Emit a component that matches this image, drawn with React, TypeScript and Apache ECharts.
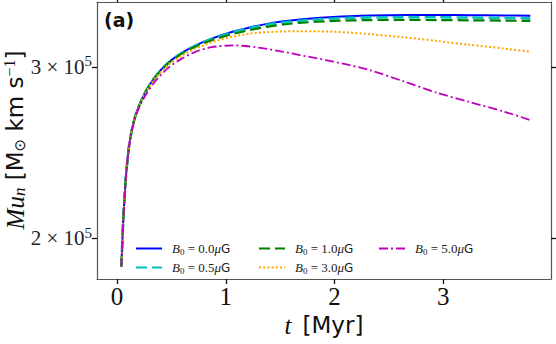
import React, { useEffect, useRef } from "react";
import * as echarts from "echarts";

// time axis [Myr]
const timeMyr = [0.04, 0.055, 0.07, 0.085, 0.11, 0.14, 0.18, 0.26, 0.35, 0.47, 0.6, 0.72, 0.87, 1.07, 1.22, 1.38, 1.53, 1.68, 1.84, 1.99, 2.14, 2.33, 2.63, 2.94, 3.24, 3.55, 3.8];

// momentum M u_n [Msun km/s] per field strength
const momB00 = [187000, 206000, 221000, 233500, 248500, 259500, 269500, 282500, 292800, 302800, 310200, 315400, 320600, 326000, 329200, 332000, 334000, 335500, 336700, 337500, 338100, 338600, 339000, 339000, 338900, 338700, 338400];
const momB05 = [187000, 206000, 221000, 233500, 248500, 259500, 269500, 282500, 292800, 302800, 310100, 315300, 320400, 325600, 328700, 331300, 333200, 334500, 335500, 336200, 336700, 337100, 337300, 337200, 337000, 336700, 336300];
const momB10 = [187000, 206000, 221000, 233500, 248500, 259500, 269500, 282400, 292600, 302400, 309600, 314600, 319400, 324300, 327200, 329700, 331500, 332800, 333700, 334300, 334700, 335000, 335100, 335000, 334800, 334600, 334300];
const momB30 = [187000, 206000, 221000, 233500, 248500, 259400, 269300, 282000, 291800, 301300, 308200, 313100, 317800, 322300, 324400, 325600, 326100, 326300, 326200, 325900, 325200, 324000, 321700, 318900, 316000, 313300, 310800];
const momB50 = [187000, 206000, 221000, 233500, 248300, 259000, 268500, 280200, 289800, 299200, 306000, 310800, 314200, 315600, 314700, 312900, 310800, 308400, 306000, 303600, 301100, 297500, 290000, 282200, 276000, 270000, 264500];

const fieldLabels = ["0.0", "0.5", "1.0", "3.0", "5.0"];
const seriesValues = [momB00, momB05, momB10, momB30, momB50];

const xTicks = [0, 1, 2, 3];
const yTickValues = [200000, 300000];
const yTickMantissa = ["2", "3"];
const yTickExponent = ["5", "5"];

const colors = ["#0000ff", "#00bfbf", "#008000", "#ffa500", "#bf00bf"];
const widths = [2, 2.6, 2.2, 2, 1.8];
const dashes: any[] = ["solid", [11, 5], [11, 5], [2, 2.2], [9, 3, 2, 3]];

const X_MIN = -0.184;
const X_MAX = 3.99;
const Y_MIN = 181700;
const Y_MAX = 349600;

const SERIF = '"Liberation Serif", "DejaVu Serif", serif';
const SANS = '"DejaVu Sans", sans-serif';

export default function App() {
  const ref = useRef<HTMLDivElement>(null);
  useEffect(() => {
    if (!ref.current) return;
    const chart = echarts.init(ref.current, null, { renderer: "svg" });
    const names = fieldLabels.map((l) => "B0 = " + l);
    const yTickLogs = yTickValues.map((v) => Math.log10(v));

    const legendCommon = {
      orient: "vertical",
      itemWidth: 26,
      itemHeight: 12,
      itemGap: 5,
      selectedMode: false,
      top: 242,
      padding: 0,
      itemStyle: { opacity: 0 },
      formatter: (name: string) => {
        const lab = name.replace("B0 = ", "");
        return `{i|B}{s|0}{r| = ${lab}}{m|μ}{g|G}`;
      },
      textStyle: {
        color: "#222",
        padding: [0, 0, 0, 5],
        rich: {
          i: { fontFamily: SERIF, fontStyle: "italic", fontSize: 13, color: "#222" },
          s: { fontFamily: SERIF, fontSize: 9, padding: [6, 0, 0, 0], color: "#222" },
          r: { fontFamily: SERIF, fontSize: 13, color: "#222" },
          m: { fontFamily: SERIF, fontStyle: "italic", fontSize: 13, color: "#222" },
          g: { fontFamily: SANS, fontSize: 12, color: "#222" },
        },
      },
    };

    const axisLineStyle = { color: "#555", width: 1.2 };
    const tickStyle = { color: "#111", width: 1.3 };

    const option: any = {
      animation: false,
      backgroundColor: "#fff",
      grid: { left: 97, right: 5, top: 2, bottom: 65 },
      legend: [
        { ...legendCommon, left: 135, data: [names[0], names[1]] },
        { ...legendCommon, left: 258, data: [names[2], names[3]] },
        { ...legendCommon, left: 378, data: [names[4]] },
      ],
      xAxis: [
        {
          type: "value",
          min: X_MIN,
          max: X_MAX,
          position: "bottom",
          splitLine: { show: false },
          axisLine: { show: true, onZero: false, lineStyle: axisLineStyle },
          axisTick: { show: true, inside: false, length: 5, lineStyle: tickStyle, customValues: xTicks },
          axisLabel: {
            show: true,
            margin: 5,
            customValues: xTicks,
            fontFamily: SERIF,
            fontSize: 25,
            color: "#111",
            formatter: (v: number) => String(Math.round(v)),
          },
        },
        {
          type: "value",
          min: X_MIN,
          max: X_MAX,
          position: "top",
          splitLine: { show: false },
          axisLine: { show: true, onZero: false, lineStyle: axisLineStyle },
          axisTick: { show: true, inside: false, length: 5, lineStyle: tickStyle, customValues: xTicks },
          axisLabel: { show: false },
        },
      ],
      yAxis: [
        {
          type: "value",
          min: Math.log10(Y_MIN),
          max: Math.log10(Y_MAX),
          position: "left",
          splitLine: { show: false },
          axisLine: { show: true, onZero: false, lineStyle: axisLineStyle },
          axisTick: { show: true, inside: false, length: 5, lineStyle: tickStyle, customValues: yTickLogs },
          axisLabel: {
            show: true,
            margin: 5,
            customValues: yTickLogs,
            formatter: (v: number) => {
              let idx = 0;
              let best = Infinity;
              yTickLogs.forEach((t, i) => {
                const d = Math.abs(t - v);
                if (d < best) { best = d; idx = i; }
              });
              return `{m|${yTickMantissa[idx]} × 10}{e|${yTickExponent[idx]}}`;
            },
            rich: {
              m: { fontFamily: SERIF, fontSize: 21, color: "#222" },
              e: { fontFamily: SERIF, fontSize: 15, color: "#222", padding: [0, 0, 11, 0] },
            },
          },
        },
        {
          type: "value",
          min: Math.log10(Y_MIN),
          max: Math.log10(Y_MAX),
          position: "right",
          splitLine: { show: false },
          axisLine: { show: true, onZero: false, lineStyle: axisLineStyle },
          axisTick: { show: true, inside: false, length: 5, lineStyle: tickStyle, customValues: yTickLogs },
          axisLabel: { show: false },
        },
      ],
      series: seriesValues.map((vals, k) => ({
        name: names[k],
        type: "line",
        xAxisIndex: 0,
        yAxisIndex: 0,
        symbol: "none",
        showSymbol: false,
        smooth: 0.25,
        color: colors[k],
        lineStyle: { color: colors[k], width: widths[k], type: dashes[k] },
        data: timeMyr.map((t, i) => [t, Math.log10(vals[i])]),
        z: 2 + k,
      })),
      graphic: [
        {
          type: "text",
          x: 104,
          y: 20,
          style: {
            text: "(a)",
            fontFamily: SANS,
            fontWeight: "bold",
            fontSize: 19,
            fill: "#111",
            align: "left",
            verticalAlign: "middle",
          },
        },
        {
          type: "text",
          x: 324,
          y: 325,
          style: {
            text: "{i|t}{s|[Myr]}",
            align: "center",
            verticalAlign: "middle",
            fill: "#111",
            rich: {
              i: { fontFamily: SERIF, fontStyle: "italic", fontSize: 25, fill: "#111" },
              s: { fontFamily: SANS, fontSize: 23, fill: "#111", padding: [0, 0, 0, 11] },
            },
          },
        },
        {
          type: "text",
          x: 15,
          y: 140,
          rotation: Math.PI / 2,
          style: {
            text: "{i|Mu}{is|n}{s| [M}{o|⊙}{s| km s}{sup|−1}{s|]}",
            align: "center",
            verticalAlign: "middle",
            fill: "#111",
            rich: {
              i: { fontFamily: SERIF, fontStyle: "italic", fontSize: 25, fill: "#111" },
              is: { fontFamily: SERIF, fontStyle: "italic", fontSize: 17, fill: "#111", padding: [9, 0, 0, 0] },
              s: { fontFamily: SANS, fontSize: 23, fill: "#111" },
              o: { fontFamily: SANS, fontSize: 15, fill: "#111", padding: [9, 0, 0, 0] },
              sup: { fontFamily: SERIF, fontSize: 16, fill: "#111", padding: [0, 0, 11, 0] },
            },
          },
        },
      ],
    };
    chart.setOption(option);
    return () => chart.dispose();
  }, []);
  return (
    <div
      ref={ref}
      style={{ position: "absolute", left: 0, top: 0, width: 556, height: 344, background: "#fff" }}
    />
  );
}
